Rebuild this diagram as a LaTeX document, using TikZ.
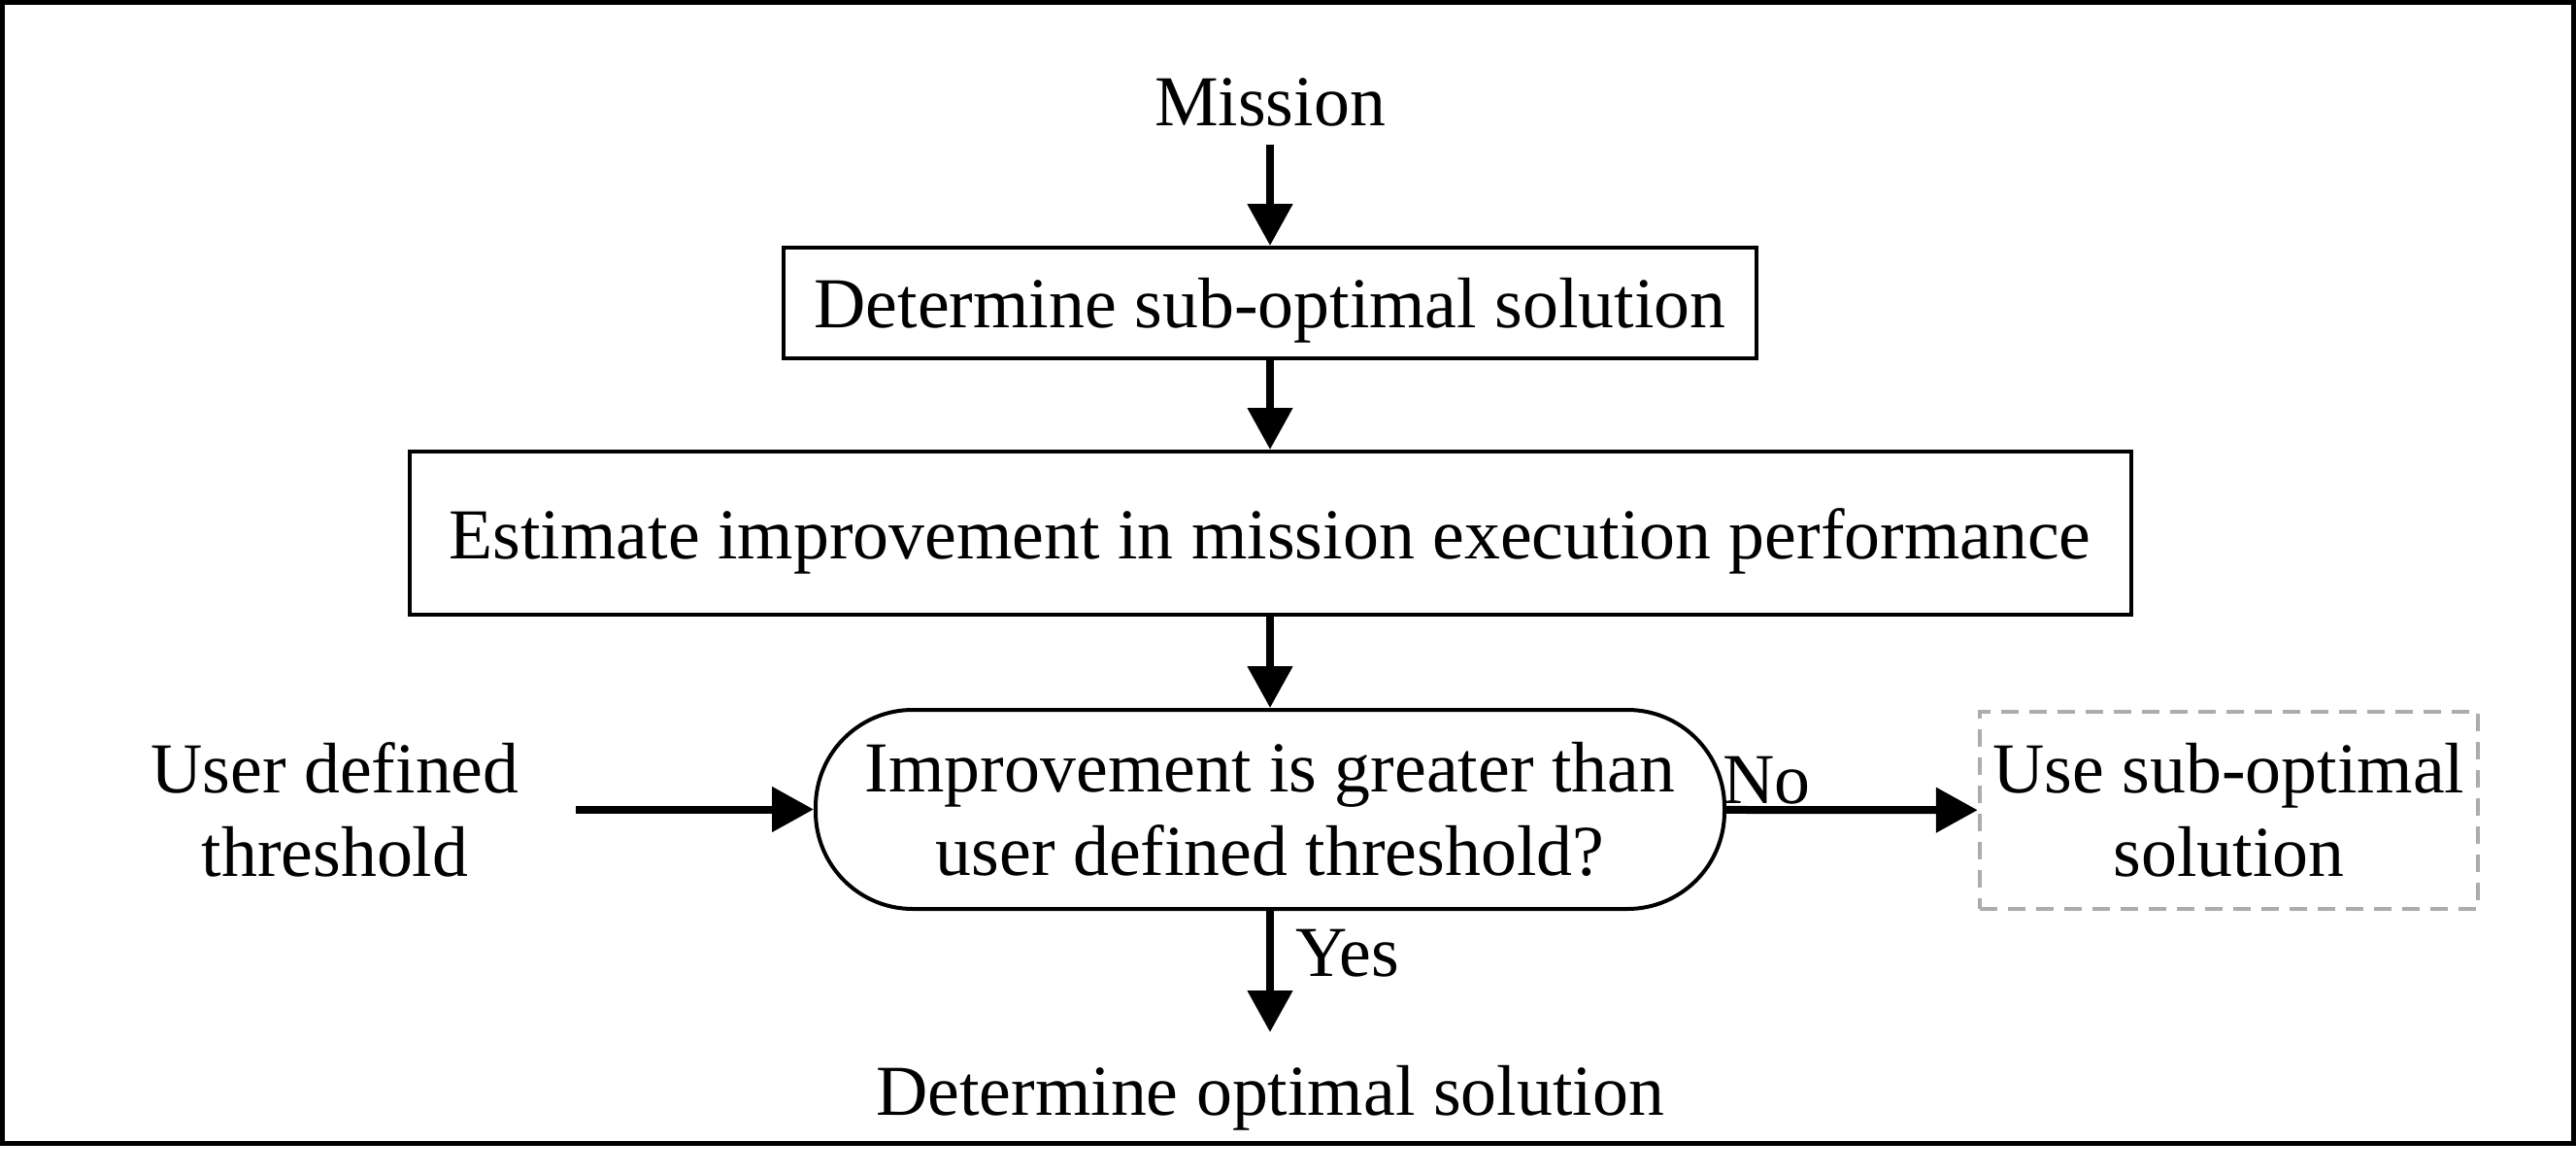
\documentclass[tikz,border=0pt]{standalone}
\usepackage{fontspec}
\setmainfont{Liberation Serif}
\usetikzlibrary{arrows.meta}
\tikzset{
  frameln/.style  = {line width=0.05cm},
  procbox/.style  = {draw, line width=0.04cm, inner sep=0pt, text height=0.68cm, text depth=0.16cm},
  decnode/.style  = {draw, line width=0.04cm, rounded corners=1.0cm, align=center,
                     minimum width=9.36cm, minimum height=2.05cm},
  altbox/.style   = {draw=gray!65, line width=0.045cm, dash pattern=on 0.18cm off 0.11cm,
                     align=center, minimum width=5.13cm, minimum height=2.03cm},
  flowarr/.style  = {-{Triangle[length=0.43cm,width=0.45cm]}, line width=0.08cm},
  lbl/.style      = {align=center}
}

\begin{document}
\begin{tikzpicture}[font=\fontsize{21}{24.5}\selectfont]
  \useasboundingbox (0,0) rectangle (26.53,-12.10);
  \draw[frameln] (0.025,-0.025) rectangle (26.505,-11.775);
  % main column
  \node[lbl] (mission) at (13.08,-1.05) {Mission};
  \node[procbox,minimum width=10.02cm,minimum height=1.14cm] (subopt) at (13.08,-3.12)
        {Determine sub-optimal solution};
  \node[procbox,minimum width=17.73cm,minimum height=1.68cm] (estim) at (13.08,-5.49)
        {Estimate improvement in mission execution performance};
  \node[decnode] (decide) at (13.08,-8.335)
        {Improvement is greater than\\user defined threshold?};
  \node[lbl] (thresh) at (3.45,-8.335) {User defined\\threshold};
  \node[altbox] (usesub) at (22.955,-8.345) {Use sub-optimal\\solution};
  \node[lbl] (optimal) at (13.08,-11.31) {Determine optimal solution};
  % connectors
  \draw[flowarr] ([yshift=-0.065cm]mission.south) -- (subopt);
  \draw[flowarr] (subopt) -- (estim);
  \draw[flowarr] (estim) -- (decide);
  \draw[flowarr,shorten <=0.46cm] (thresh) -- (decide);
  \draw[flowarr] (decide) -- (usesub)
        node[pos=0,above right,inner sep=0.02cm,xshift=-0.1cm]{No};
  \coordinate (yesend) at (13.08,-10.63);
  \draw[flowarr] (decide.south) -- (yesend)
        node[pos=0.35,right,inner sep=0.22cm]{Yes};
\end{tikzpicture}
\end{document}
